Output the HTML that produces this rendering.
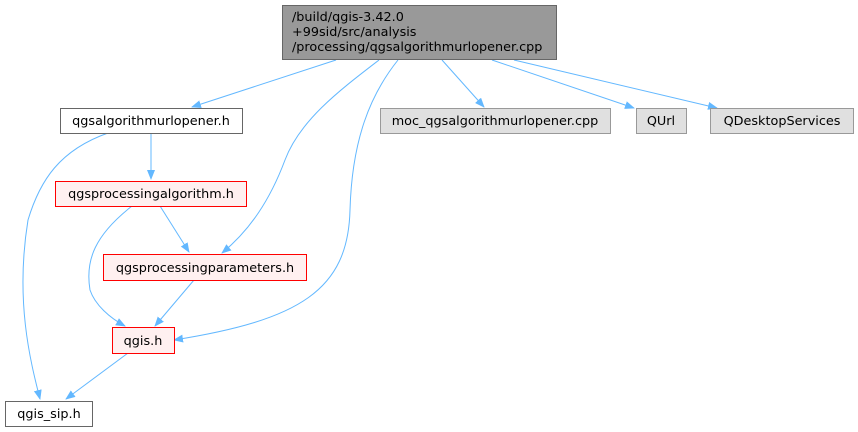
<!DOCTYPE html>
<html><head><style>body{margin:0;background:#fff}svg{display:block}text{font-family:"DejaVu Sans",sans-serif;font-size:12.8px;fill:#000}</style></head><body>
<svg width="858" height="432" viewBox="0 0 858 432" xmlns="http://www.w3.org/2000/svg">
<defs><marker id="a" markerWidth="10" markerHeight="8" refX="9" refY="4" orient="auto" markerUnits="userSpaceOnUse"><path d="M0,0L10,4L0,8z" fill="#63b8ff"/></marker></defs>
<g fill="none" stroke="#63b8ff" stroke-width="1" marker-end="url(#a)">
<path d="M336,60L192,107"/>
<path d="M379,60C340,90 300,120 285,160C270,200 250,230 222,253"/>
<path d="M398,60C370,95 352,140 350,210C348,290 300,320 174,340"/>
<path d="M442,60L484,107"/>
<path d="M492,60L634,108"/>
<path d="M514,60L717,108"/>
<path d="M151,133L151,179"/>
<path d="M108,133C60,150 40,180 28,220C15,300 30,360 40,399"/>
<path d="M160,206L189,252"/>
<path d="M132,206C95,235 85,260 90,290C95,305 110,318 125,326"/>
<path d="M194,280L155,326"/>
<path d="M128,353L66,399"/>
</g>
<rect x="282.5" y="5.5" width="274" height="54" fill="#999" stroke="#666"/>
<text x="292" y="21">/build/qgis-3.42.0</text>
<text x="292" y="36">+99sid/src/analysis</text>
<text x="292" y="51">/processing/qgsalgorithmurlopener.cpp</text>
<rect x="60.5" y="108.5" width="182" height="25" fill="#fff" stroke="#666"/>
<text x="151" y="125" text-anchor="middle">qgsalgorithmurlopener.h</text>
<rect x="380.5" y="108.5" width="230" height="25" fill="#e0e0e0" stroke="#999"/>
<text x="495" y="125" text-anchor="middle">moc_qgsalgorithmurlopener.cpp</text>
<rect x="636.5" y="108.5" width="50" height="25" fill="#e0e0e0" stroke="#999"/>
<text x="661" y="125" text-anchor="middle">QUrl</text>
<rect x="710.5" y="108.5" width="143" height="25" fill="#e0e0e0" stroke="#999"/>
<text x="782" y="125" text-anchor="middle">QDesktopServices</text>
<rect x="55.5" y="181.5" width="191" height="25" fill="#fff0f0" stroke="#f00"/>
<text x="151" y="198" text-anchor="middle">qgsprocessingalgorithm.h</text>
<rect x="103.5" y="254.5" width="203" height="26" fill="#fff0f0" stroke="#f00"/>
<text x="205" y="272" text-anchor="middle">qgsprocessingparameters.h</text>
<rect x="112.5" y="327.5" width="62" height="26" fill="#fff0f0" stroke="#f00"/>
<text x="143" y="345" text-anchor="middle">qgis.h</text>
<rect x="5.5" y="401.5" width="87" height="25" fill="#fff" stroke="#666"/>
<text x="49" y="418" text-anchor="middle">qgis_sip.h</text>
</svg>
</body></html>
